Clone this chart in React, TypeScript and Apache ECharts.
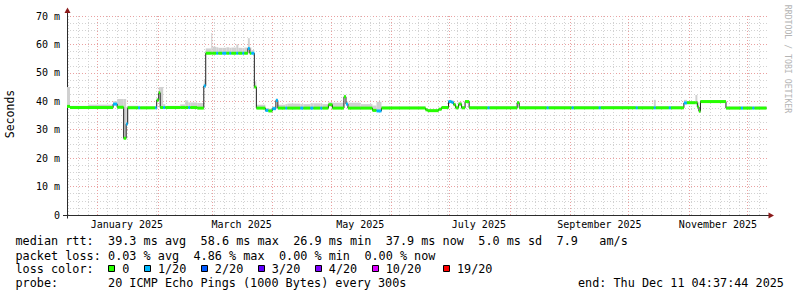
import React, { useEffect, useRef } from "react";
import * as echarts from "echarts";

// ---------- data ----------
const rangeStart = "2024-12-16T04:37:44";
const rangeEnd = "2025-12-11T04:37:44";
const dataEnd = "2025-12-10T23:00";

// each step starts at stepTimes[i] and holds until the next one
const stepTimes = [
  "2024-12-16T04:37:44", "2024-12-17T18:00", "2024-12-27T00:00", "2025-01-08T22:00", "2025-01-11T00:00",
  "2025-01-14T08:00", "2025-01-15T15:00", "2025-01-16T10:00", "2025-01-21T19:00", "2025-01-22T20:00",
  "2025-01-30T13:00", "2025-01-31T08:00", "2025-02-01T09:00", "2025-02-02T03:00", "2025-02-03T16:00",
  "2025-02-04T17:00", "2025-02-12T10:00", "2025-02-15T00:00", "2025-02-16T13:00", "2025-02-17T14:00",
  "2025-02-21T04:00", "2025-02-24T13:00", "2025-02-25T13:00", "2025-02-28T09:00", "2025-02-28T22:00",
  "2025-03-02T23:00", "2025-03-04T00:00", "2025-03-06T01:00", "2025-03-08T03:00", "2025-03-09T16:00",
  "2025-03-10T17:00", "2025-03-13T06:00", "2025-03-14T07:00", "2025-03-16T09:00", "2025-03-17T09:00",
  "2025-03-19T05:00", "2025-03-20T05:00", "2025-03-21T00:00", "2025-03-22T13:00", "2025-03-23T14:00",
  "2025-03-28T05:00", "2025-03-29T18:00", "2025-03-31T19:00", "2025-04-02T15:00", "2025-04-03T15:00",
  "2025-04-07T12:00", "2025-04-08T12:00", "2025-04-15T05:00", "2025-04-16T18:00", "2025-04-20T09:00",
  "2025-04-21T22:00", "2025-04-25T12:00", "2025-04-26T13:00", "2025-04-29T15:00", "2025-05-01T17:00",
  "2025-05-07T15:00", "2025-05-08T16:00", "2025-05-09T16:00", "2025-05-16T03:00", "2025-05-22T07:00",
  "2025-05-24T09:00", "2025-05-26T22:00", "2025-06-18T14:00", "2025-06-19T15:00", "2025-06-25T07:00",
  "2025-06-26T20:00", "2025-06-30T10:00", "2025-07-01T23:00", "2025-07-03T00:00", "2025-07-04T01:00",
  "2025-07-05T14:00", "2025-07-07T03:00", "2025-07-08T22:00", "2025-07-11T00:00", "2025-07-20T12:00",
  "2025-07-21T13:00", "2025-08-04T17:00", "2025-08-05T18:00", "2025-08-19T22:00", "2025-08-20T22:00",
  "2025-09-01T18:00", "2025-09-02T19:00", "2025-09-15T16:00", "2025-09-16T17:00", "2025-10-04T17:00",
  "2025-10-05T18:00", "2025-10-14T00:00", "2025-10-15T00:00", "2025-10-21T17:00", "2025-10-22T18:00",
  "2025-10-29T11:00", "2025-10-31T00:00", "2025-11-04T09:00", "2025-11-05T09:00", "2025-11-06T04:00",
  "2025-11-06T23:00", "2025-11-20T02:00", "2025-11-27T19:00", "2025-11-28T20:00", "2025-12-03T17:00",
  "2025-12-04T18:00",
];

const medianMs = [
  38.2, 37.8, 37.8, 39.0, 37.9,
  27.0, 32.0, 37.7, 37.7, 37.7,
  37.7, 40.4, 43.0, 37.8, 37.8,
  37.8, 37.8, 37.8, 37.8, 37.8,
  37.6, 45.4, 56.9, 56.9, 56.9,
  56.9, 56.9, 56.9, 56.9, 56.9,
  56.9, 56.9, 56.9, 56.9, 56.9,
  58.6, 56.9, 56.9, 45.0, 37.6,
  36.8, 36.6, 37.4, 40.3, 37.6,
  37.6, 37.6, 37.6, 37.6, 37.6,
  37.6, 37.6, 37.6, 38.8, 37.6,
  41.6, 39.0, 37.6, 37.6, 36.8,
  36.6, 37.6, 37.0, 36.7, 37.2,
  37.8, 39.9, 39.6, 38.8, 37.7,
  39.0, 37.7, 39.9, 37.7, 37.7,
  37.7, 39.5, 37.7, 37.7, 37.7,
  37.7, 37.7, 37.7, 37.7, 37.7,
  37.7, 37.7, 37.7, 37.7, 37.7,
  39.4, 39.5, 39.5, 38.0, 36.5,
  39.9, 37.6, 37.6, 37.6, 37.6,
  37.6,
];

// lost pings out of 20
const lossPings = [
  0, 0, 0, 1, 0,
  0, 1, 0, 1, 0,
  1, 0, 0, 0, 1,
  0, 0, 0, 1, 0,
  0, 1, 0, 0, 0,
  1, 0, 1, 0, 1,
  0, 1, 0, 1, 0,
  1, 0, 1, 0, 0,
  1, 0, 1, 1, 0,
  1, 0, 1, 0, 1,
  0, 1, 0, 0, 0,
  0, 1, 0, 0, 0,
  1, 0, 0, 0, 0,
  0, 1, 1, 0, 0,
  0, 0, 0, 0, 1,
  0, 0, 0, 1, 0,
  1, 0, 1, 0, 1,
  0, 1, 0, 1, 0,
  1, 0, 0, 0, 0,
  0, 0, 1, 0, 1,
  0,
];

// top of the smoke (slowest pings)
const smokeTopMs = [
  45.0, 38.4, 38.8, 40.0, 40.8,
  40.8, 38.0, 38.4, 38.4, 38.2,
  38.2, 41.2, 45.0, 45.0, 39.0,
  38.4, 38.9, 40.3, 39.6, 39.6,
  39.4, 47.5, 58.6, 64.0, 59.2,
  59.0, 58.8, 58.8, 59.0, 58.8,
  58.9, 60.0, 58.8, 58.7, 58.9,
  62.2, 59.0, 58.0, 47.0, 38.8,
  37.6, 37.4, 38.2, 41.0, 38.8,
  39.0, 39.2, 39.0, 39.0, 39.3,
  39.3, 39.2, 39.0, 39.7, 39.5,
  42.3, 40.0, 39.5, 39.0, 38.5,
  39.8, 38.2, 37.6, 37.2, 37.7,
  38.3, 40.5, 40.3, 39.5, 38.5,
  39.8, 38.3, 40.4, 38.3, 38.3,
  38.3, 40.0, 38.3, 38.3, 38.3,
  38.3, 38.3, 38.3, 38.3, 38.3,
  38.3, 40.5, 38.3, 38.3, 38.3,
  40.5, 40.0, 42.2, 39.7, 38.0,
  40.4, 38.2, 38.2, 38.2, 38.2,
  38.2,
];

const monthStarts = [
  "2025-01-01", "2025-02-01", "2025-03-01", "2025-04-01", "2025-05-01", "2025-06-01",
  "2025-07-01", "2025-08-01", "2025-09-01", "2025-10-01", "2025-11-01", "2025-12-01",
];
const monthLabelDates = ["2025-01-16", "2025-03-16", "2025-05-16", "2025-07-16", "2025-09-16", "2025-11-16"];
const monthLabels = ["January 2025", "March 2025", "May 2025", "July 2025", "September 2025", "November 2025"];

const lossLevels = [0, 1, 2, 3, 4, 10, 19];
const lossColors = ["#26ff00", "#00b8ff", "#0059ff", "#5e00ff", "#7e00ff", "#dd00ff", "#ff0000"];
const lossLegend = ["0", "1/20", "2/20", "3/20", "4/20", "10/20", "19/20"];

const rttLine = ["median rtt:", "39.3 ms avg", "58.6 ms max", "26.9 ms min", "37.9 ms now", "5.0 ms sd", "7.9", "am/s"];
const lossLine = ["packet loss:", "0.03 % avg", "4.86 % max", "0.00 % min", "0.00 % now"];
const probeLine = ["probe:", "20 ICMP Echo Pings (1000 Bytes) every 300s"];
const endText = "end: Thu Dec 11 04:37:44 2025";

// ---------- layout ----------
const FONT = '"DejaVu Sans Mono", monospace';
const PL = 67, PT = 16, PW = 700, PH = 199;
const CH = 7.12, X0 = 15.5;
const col = (c: number) => X0 + c * CH;
const rttCols = [0, 13, 26, 39, 52, 65, 76, 82];
const lossCols = [0, 13, 25, 37, 49];
const boxCols = [13, 18, 26, 34, 42, 50, 60];
const labCols = [15, 20, 28, 36, 44, 52, 62];

const ts = (s: string) => new Date(s).getTime();

function colorFor(loss: number) {
  for (let i = 0; i < lossLevels.length; i++) if (loss <= lossLevels[i]) return lossColors[i];
  return lossColors[lossColors.length - 1];
}

function txt(x: number, y: number, s: string, size = 11.8, extra: any = {}) {
  return {
    type: "text", x, y, silent: true,
    style: {
      text: s, fontFamily: FONT, fontSize: size, fill: "#000",
      textVerticalAlign: "middle", verticalAlign: "middle", textAlign: "left", align: "left", ...extra,
    },
  };
}

export default function App() {
  const ref = useRef<HTMLDivElement>(null);
  useEffect(() => {
    document.body.style.margin = "0";
    const chart = echarts.init(ref.current!, null, { renderer: "svg" });
    const t0 = ts(rangeStart), t1 = ts(rangeEnd);
    const times = stepTimes.map(ts);
    const ends = times.slice(1).concat([ts(dataEnd)]);
    const segs = times.map((t, i) => [t, ends[i], medianMs[i], lossPings[i], smokeTopMs[i]]);
    const lineData = times.map((t, i) => [t, medianMs[i]]).concat([[ts(dataEnd), medianMs[medianMs.length - 1]]]);

    const minor: number[] = [];
    for (let t = ts("2024-12-17T00:00"); t < t1; t += 5 * 86400000) minor.push(t);
    const majors = monthStarts.map(ts);
    const labelTs = monthLabelDates.map(ts);

    const graphics: any[] = [];
    // axis extensions and arrows
    graphics.push({ type: "line", shape: { x1: PL + 0.5, y1: PT - 3, x2: PL + 0.5, y2: PT }, style: { stroke: "#2c2c2c", lineWidth: 1 } });
    graphics.push({ type: "line", shape: { x1: PL + 0.5, y1: PT + PH, x2: PL + 0.5, y2: PT + PH + 3.5 }, style: { stroke: "#2c2c2c", lineWidth: 1 } });
    graphics.push({ type: "line", shape: { x1: PL - 4, y1: PT + PH + 0.5, x2: PL, y2: PT + PH + 0.5 }, style: { stroke: "#2c2c2c", lineWidth: 1 } });
    graphics.push({ type: "line", shape: { x1: PL + PW, y1: PT + PH + 0.5, x2: PL + PW + 2, y2: PT + PH + 0.5 }, style: { stroke: "#2c2c2c", lineWidth: 1 } });
    graphics.push({ type: "polygon", shape: { points: [[PL - 2.5, PT - 3], [PL + 3.5, PT - 3], [PL + 0.5, PT - 8.5]] }, style: { fill: "#8b1a1a" } });
    graphics.push({ type: "polygon", shape: { points: [[PL + PW + 1.5, PT + PH - 2.5], [PL + PW + 1.5, PT + PH + 3.5], [PL + PW + 7, PT + PH + 0.5]] }, style: { fill: "#8b1a1a" } });
    // titles
    const yTitle = txt(10, 114, "Seconds", 11.5, { textAlign: "center", align: "center" });
    (yTitle as any).rotation = Math.PI / 2;
    graphics.push(yTitle);
    const wm = txt(787.5, 59, "RRDTOOL / TOBI OETIKER", 8.2, { textAlign: "center", align: "center", fill: "#b4b4b4" });
    (wm as any).rotation = -Math.PI / 2;
    graphics.push(wm);
    // legend lines
    rttLine.forEach((s, i) => graphics.push(txt(col(rttCols[i]), 241, s)));
    lossLine.forEach((s, i) => graphics.push(txt(col(lossCols[i]), 255.5, s)));
    graphics.push(txt(col(0), 269, "loss color:"));
    lossLegend.forEach((s, i) => {
      graphics.push({
        type: "rect", silent: true,
        shape: { x: Math.round(col(boxCols[i])) + 0.5, y: 265.5, width: 6, height: 6 },
        style: { fill: lossColors[i], stroke: "#000", lineWidth: 1 },
      });
      graphics.push(txt(col(labCols[i]), 269, s));
    });
    graphics.push(txt(col(0), 283, probeLine[0]));
    graphics.push(txt(col(13), 283, probeLine[1]));
    graphics.push(txt(col(79), 283, endText));

    const dotted = [1, 2];
    chart.setOption({
      animation: false,
      backgroundColor: "#ffffff",
      grid: { left: PL, top: PT, width: PW, height: PH, containLabel: false, outerBoundsMode: "none" },
      xAxis: [
        {
          type: "value", min: t0, max: t1, position: "top",
          axisLine: { show: false }, axisLabel: { show: false },
          axisTick: { show: false, customValues: minor },
          splitLine: { show: true, lineStyle: { color: "#d2d2d2", width: 1, type: dotted } },
        },
        {
          type: "value", min: t0, max: t1, position: "bottom",
          axisLine: { show: true, onZero: false, lineStyle: { color: "#2c2c2c", width: 1 } },
          axisTick: { show: false, customValues: majors },
          axisLabel: {
            customValues: labelTs, margin: 4, color: "#000", fontFamily: FONT, fontSize: 10,
            formatter: (v: number) => { const k = labelTs.indexOf(v); return k >= 0 ? monthLabels[k] : ""; },
          },
          splitLine: { show: true, lineStyle: { color: "#eaa0a0", width: 1, type: dotted } },
        },
      ],
      yAxis: {
        type: "value", min: 0, max: 70, interval: 10,
        axisLine: { show: true, lineStyle: { color: "#2c2c2c", width: 1 } },
        axisTick: { show: false },
        axisLabel: {
          margin: 7, color: "#000", fontFamily: FONT, fontSize: 10,
          formatter: (v: number) => (v === 0 ? "0" : v + " m"),
        },
        splitLine: { show: true, lineStyle: { color: "#eaa0a0", width: 1, type: dotted } },
        minorTick: { show: false, splitNumber: 4 },
        minorSplitLine: { show: true, lineStyle: { color: "#d2d2d2", width: 1, type: dotted } },
      },
      graphic: graphics,
      series: [
        {
          type: "custom", name: "smoke", xAxisIndex: 1, z: 2, silent: true, clip: true,
          encode: { x: [0, 1], y: [2, 4] },
          data: segs,
          renderItem: (params: any, api: any) => {
            const a = api.coord([api.value(0), api.value(4)]);
            const b = api.coord([api.value(1), api.value(2) - 0.3]);
            return { type: "rect", shape: { x: a[0], y: a[1], width: b[0] - a[0], height: b[1] - a[1] }, style: { fill: "#d0d0d0" } };
          },
        },
        {
          type: "line", name: "median", xAxisIndex: 1, z: 3, step: "end", showSymbol: false, silent: true,
          data: lineData, lineStyle: { color: "#202020", width: 1 },
        },
        {
          type: "custom", name: "loss", xAxisIndex: 1, z: 4, silent: true, clip: true,
          encode: { x: [0, 1], y: 2 },
          data: segs,
          renderItem: (params: any, api: any) => {
            const a = api.coord([api.value(0), api.value(2)]);
            const b = api.coord([api.value(1), api.value(2)]);
            return { type: "rect", shape: { x: a[0], y: a[1] - 1.5, width: b[0] - a[0], height: 3 }, style: { fill: colorFor(api.value(3)) } };
          },
        },
      ],
    });
    return () => chart.dispose();
  }, []);
  return <div ref={ref} style={{ width: 797, height: 297 }} />;
}
